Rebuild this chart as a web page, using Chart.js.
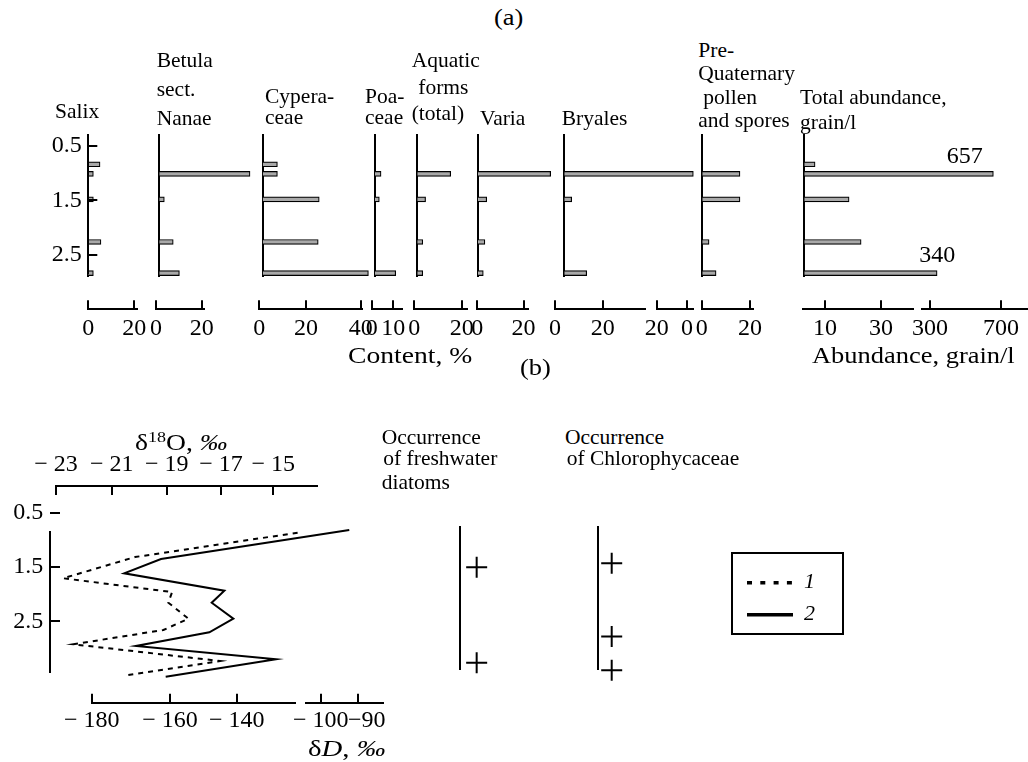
<!DOCTYPE html>
<html><head><meta charset="utf-8"><title>Pollen and isotope diagram</title>
<script src="https://cdn.jsdelivr.net/npm/chart.js@4.4.1/dist/chart.umd.min.js"></script>
<style>
html,body{margin:0;padding:0;background:#fff;}
#fig{position:relative;width:1028px;height:762px;overflow:hidden;background:#fff;font-family:'Liberation Serif','Times New Roman',serif;color:#000;}
#fig canvas{position:absolute;}
.t{position:absolute;white-space:nowrap;line-height:1;transform-origin:0 0;}
#legbox{position:absolute;left:731px;top:552px;width:113px;height:83px;box-sizing:border-box;border:2px solid #000;}
</style></head>
<body><div id="fig"><div id="legbox"></div></div>
<script>
// ================= DATA =================
// panel (a): sample depths (m) and contents (%)
const depthsA    = [0.87, 1.04, 1.49, 2.24, 2.79];
const salix      = [5.1, 2.2, 2.2, 5.5, 2.2];
const betula     = [null, 39.7, 2.2, 6.1, 8.8];
const cyperaceae = [5.8, 5.8, 22.3, 21.9, 41.7];
const poaceae    = [null, 2.8, 2.0, null, 9.6];
const aquatic    = [null, 14.1, 3.5, 2.3, 2.3];
const varia      = [null, 31.6, 3.8, 3.0, 2.3];
const bryales    = [null, 54.1, 3.1, null, 9.4];
const preQuat    = [null, 15.6, 15.6, 2.8, 5.7];
const totalAbund = [5.2, 657, 18.6, 22.9, 340];   // grain/l

const depthTicks = [0.5, 1.5, 2.5];
const depthTickLabels = ['0.5', '1.5', '2.5'];

// panel (b): isotopes
const depthsO18 = [0.898, 1.325, 1.698, 1.939, 2.126, 2.407, 2.605, 2.856, 3.149, 3.395];
const d18O      = [-14.07, -20.15, -22.74, -18.80, -18.94, -18.20, -19.12, -22.38, -17.04, -20.40];
const depthsD   = [0.851, 1.360, 1.611, 1.916, 2.126, 2.407, 2.646, 2.886, 3.119, 3.425];
const dD        = [-92.4, -162.3, -171.7, -143.7, -147.5, -141.0, -148.2, -168.7, -128.2, -161.1];

const o18Ticks = [-23, -21, -19, -17, -15];
const o18TickLabels = ['\u2212 23', '\u2212 21', '\u2212 19', '\u2212 17', '\u2212 15'];
const dDTicksA = [-180, -160, -140];
const dDTickLabelsA = ['\u2212 180', '\u2212 160', '\u2212 140'];
const dDTicksB = [-100, -90];
const dDTickLabelsB = ['\u2212 100', '\u2007\u2009\u221290'];

// occurrences (presence = 1)
const diatomDepths = [1.505, 3.18];
const chloroDepths = [1.435, 2.72, 3.31];
const presence = 1;

// legend
const seriesNames = ['1', '2'];

// ================= LIBRARY SETUP =================
const FONT = "'Liberation Serif','Times New Roman',serif";
Chart.defaults.font.family = FONT;
Chart.defaults.color = '#000';
Chart.defaults.animation = false;
Chart.defaults.events = [];
Chart.defaults.plugins.legend.display = false;
Chart.defaults.plugins.tooltip.enabled = false;

function pw(knots, v) {
  const k = knots.slice().sort((a, b) => a[0] - b[0]);
  let i = 0;
  while (i < k.length - 2 && v > k[i + 1][0]) i++;
  const a = k[i], b = k[i + 1];
  return a[1] + (v - a[0]) * (b[1] - a[1]) / (b[0] - a[0]);
}
function pwInv(knots, p) {
  const k = knots.slice().sort((a, b) => a[1] - b[1]);
  let i = 0;
  while (i < k.length - 2 && p > k[i + 1][1]) i++;
  const a = k[i], b = k[i + 1];
  return a[0] + (p - a[1]) * (b[0] - a[0]) / (b[1] - a[1]);
}
// linear scale with a hand-calibrated (broken / uneven) value-to-pixel relation
class PiecewiseScale extends Chart.LinearScale {
  getPixelForValue(value) {
    const o = this.options;
    return this.left + (pw(o.knots, value) - o.originPx);
  }
  getValueForPixel(pixel) {
    const o = this.options;
    return pwInv(o.knots, pixel - this.left + o.originPx);
  }
}
PiecewiseScale.id = 'piecewise';
PiecewiseScale.defaults = {};
Chart.register(PiecewiseScale);

const fig = document.getElementById('fig');
function place(L, T, R, B, m) {
  const x = Math.floor(L - m.l), y = Math.floor(T - m.t);
  const w = Math.ceil(R + m.r) - x, h = Math.ceil(B + m.b) - y;
  return {x, y, w, h, pad: {left: L - x, top: T - y, right: x + w - R, bottom: y + h - B}};
}
function makeChart(g, cfg) {
  const c = document.createElement('canvas');
  c.width = g.w; c.height = g.h;
  c.style.left = g.x + 'px'; c.style.top = g.y + 'px';
  c.style.width = g.w + 'px'; c.style.height = g.h + 'px';
  fig.appendChild(c);
  cfg.options = Object.assign({responsive: false, animation: false, devicePixelRatio: 1}, cfg.options);
  cfg.options.layout = Object.assign({autoPadding: false}, cfg.options.layout);
  return new Chart(c, cfg);
}
function text(html, left, baseline, size, opts) {
  const d = document.createElement('div');
  d.className = 't';
  d.style.fontSize = size + 'px';
  d.style.left = left + 'px';
  d.style.top = (baseline - 0.8375 * size) + 'px';
  if (opts && opts.sx) d.style.transform = 'scaleX(' + opts.sx + ')';
  if (opts && opts.italic) d.style.fontStyle = 'italic';
  d.innerHTML = html;
  fig.appendChild(d);
}

const BAR_FILL = '#a9a9a9';
const TICK_FONT = {size: 24};

function hiddenDepthAxis(min, max, showBorder) {
  return {type: 'linear', position: 'left', min, max, reverse: true, bounds: 'data', offset: false,
    ticks: {display: false}, grid: {display: false, drawTicks: false},
    border: {display: showBorder !== false, color: '#000', width: 2},
    afterFit: s => { s.width = 0; }};
}
function labelledDepthAxis(L, R, T, B, min, max, labelPad, showBorder) {
  const W = 46;
  const g = place(L, T, R, B, {l: W + 4, t: 18, r: 2, b: 18});
  g.pad.left -= W;
  return makeChart(g, {type: 'scatter', data: {datasets: []}, options: {layout: {padding: g.pad}, scales: {
    x: {type: 'linear', display: false, min: 0, max: 1},
    y: {type: 'linear', position: 'left', min, max, reverse: true, bounds: 'data', offset: false,
      afterBuildTicks: s => { s.ticks = depthTicks.map(v => ({value: v})); },
      afterFit: s => { s.width = W; },
      ticks: {autoSkip: false, padding: labelPad, font: TICK_FONT, color: '#000', callback: (v, i) => depthTickLabels[i]},
      grid: {display: true, drawOnChartArea: true, drawTicks: false, color: '#000', lineWidth: 2},
      border: {display: showBorder, color: '#000', width: 2}}
  }}});
}
const AXH = 40;
function strip(spec, lineY, pos, labelPad) {
  const T = pos === 'bottom' ? lineY - 9 : lineY;
  const B = pos === 'bottom' ? lineY : lineY + 9;
  const m = pos === 'bottom' ? {l: 34, r: 34, t: 2, b: AXH + 2} : {l: 34, r: 34, t: AXH + 2, b: 2};
  const g = place(spec.L, T, spec.R, B, m);
  if (pos === 'bottom') g.pad.bottom -= AXH; else g.pad.top -= AXH;
  const vL = pwInv(spec.knots, spec.L), vR = pwInv(spec.knots, spec.R);
  return makeChart(g, {type: 'scatter', data: {datasets: []}, options: {layout: {padding: g.pad}, scales: {
    x: {type: 'piecewise', position: pos, knots: spec.knots, originPx: spec.L,
      min: Math.min(vL, vR), max: Math.max(vL, vR), bounds: 'data', offset: false,
      afterBuildTicks: s => { s.ticks = spec.ticks.map(v => ({value: v})); },
      afterFit: s => { s.height = AXH; },
      grid: {display: true, drawOnChartArea: true, drawTicks: false, color: '#000', lineWidth: 2},
      border: {display: true, color: '#000', width: 2},
      ticks: {autoSkip: false, maxRotation: 0, minRotation: 0, padding: labelPad, font: TICK_FONT, color: '#000',
        callback: (v, i) => spec.labels[i]}},
    y: {display: false}
  }}});
}

// ================= PANEL (a) =================
const A_T = 135, A_B = 276;
const aMin = 0.5 + (A_T - 143.3) / 56.7, aMax = 0.5 + (A_B - 143.3) / 56.7;

const columns = [
  {values: salix,      L: 88.3,  R: 150,  k: 2.3},
  {values: betula,     L: 159.3, R: 255,  k: 2.285},
  {values: cyperaceae, L: 262.7, R: 372,  k: 2.535},
  {values: poaceae,    L: 375,   R: 405,  k: 2.16},
  {values: aquatic,    L: 417.3, R: 470,  k: 2.37},
  {values: varia,      L: 478,   R: 560,  k: 2.3},
  {values: bryales,    L: 564.3, R: 700,  k: 2.385},
  {values: preQuat,    L: 702.3, R: 762,  k: 2.415},
  {values: totalAbund, L: 804.3, R: 1022,
   knots: [[0, 804.3], [10, 825], [30, 881], [40, 909], [300, 930], [700, 1001], [800, 1018.75]]}
];
columns.forEach(col => {
  const g = place(col.L, A_T, col.R, A_B, {l: 4, t: 4, r: 3, b: 4});
  const pts = depthsA.map((d, i) => ({x: col.values[i], y: d})).filter(p => p.x != null);
  const x = col.knots
    ? {type: 'piecewise', knots: col.knots, originPx: col.L, min: 0, max: pwInv(col.knots, col.R), display: false, bounds: 'data', offset: false}
    : {type: 'linear', min: 0, max: (col.R - col.L) / col.k, display: false, bounds: 'data', offset: false};
  makeChart(g, {type: 'bar',
    data: {datasets: [{data: pts, backgroundColor: BAR_FILL, borderColor: '#000', borderWidth: 1.2,
      borderSkipped: 'start', barThickness: 5}]},
    options: {indexAxis: 'y', layout: {padding: g.pad}, scales: {x, y: hiddenDepthAxis(aMin, aMax)}}});
});
// depth axis with inward ticks
labelledDepthAxis(88.3, 97.3, A_T, A_B, aMin, aMax, 6.6, true);

// bottom axis strips
const A_LINE = 309.3;
[
  {L: 88.3,  R: 136.7, knots: [[0, 88.3], [20, 134.3]], ticks: [0, 20], labels: ['0', '20']},
  {L: 156,   R: 204,   knots: [[0, 156], [20, 201.7]], ticks: [0, 20], labels: ['0', '20']},
  {L: 259.3, R: 361.7, knots: [[0, 259.3], [20, 306], [40, 360.7]], ticks: [0, 20, 40], labels: ['0', '20', '40']},
  {L: 371.7, R: 401.7, knots: [[0, 371.7], [10, 393.3]], ticks: [0, 10], labels: ['0', '10']},
  {L: 414.3, R: 466.7, knots: [[0, 414.3], [20, 461.7]], ticks: [0, 20], labels: ['0', '20']},
  {L: 477.3, R: 528.3, knots: [[0, 477.3], [20, 523.5]], ticks: [0, 20], labels: ['0', '20']},
  {L: 555,   R: 645,   knots: [[0, 555], [20, 602.7]], ticks: [0, 20], labels: ['0', '20']},
  {L: 656.7, R: 693.3, knots: [[20, 656.7], [0, 687]], ticks: [20, 0], labels: ['20', '0']},
  {L: 701.7, R: 753,   knots: [[0, 701.7], [20, 750]], ticks: [0, 20], labels: ['0', '20']},
  {L: 803.3, R: 912.7, knots: [[10, 825], [30, 881]], ticks: [10, 30], labels: ['10', '30']},
  {L: 921.7, R: 1027,  knots: [[300, 930], [700, 1001]], ticks: [300, 700], labels: ['300', '700']}
].forEach(s => strip(s, A_LINE, 'bottom', 5.5));

// ================= PANEL (b) =================
const yOf = px => 0.5 + (px - 510) / 57;
const O18_KNOTS = [[-23, 56], [-21, 111.7], [-19, 166.7], [-17, 221], [-15, 273.3]];
const DD_KNOTS = [[-180, 91.7], [-160, 170], [-140, 236.7], [-122.5, 295], [-103.9, 306], [-100, 320.7], [-90, 358.3]];

// isotope profile
(function () {
  const L = 50, R = 400, T = 531.7, B = 672.7;
  const g = place(L, T, R, B, {l: 4, t: 8, r: 4, b: 10});
  makeChart(g, {type: 'scatter',
    data: {datasets: [
      {label: seriesNames[0], data: depthsO18.map((d, i) => ({x: d18O[i], y: d})), xAxisID: 'xO', yAxisID: 'y',
       showLine: true, borderColor: '#000', borderWidth: 2, borderDash: [5, 5], pointRadius: 0, clip: false},
      {label: seriesNames[1], data: depthsD.map((d, i) => ({x: dD[i], y: d})), xAxisID: 'xD', yAxisID: 'y',
       showLine: true, borderColor: '#000', borderWidth: 2, pointRadius: 0, clip: false}
    ]},
    options: {layout: {padding: g.pad}, scales: {
      xO: {type: 'piecewise', axis: 'x', display: false, knots: O18_KNOTS, originPx: L,
           min: pwInv(O18_KNOTS, L), max: pwInv(O18_KNOTS, R), bounds: 'data', offset: false},
      xD: {type: 'piecewise', axis: 'x', display: false, knots: DD_KNOTS, originPx: L,
           min: pwInv(DD_KNOTS, L), max: pwInv(DD_KNOTS, R), bounds: 'data', offset: false},
      y: hiddenDepthAxis(yOf(T), yOf(B))
    }}});
})();
labelledDepthAxis(50, 60, 500, 635, yOf(500), yOf(635), 6.7, false);

strip({L: 56, R: 317.3, knots: O18_KNOTS, ticks: o18Ticks, labels: o18TickLabels}, 486, 'top', 6.6);
strip({L: 91.7, R: 295, knots: DD_KNOTS.slice(0, 3), ticks: dDTicksA, labels: dDTickLabelsA}, 702.7, 'bottom', 3.4);
strip({L: 306, R: 382.7, knots: DD_KNOTS.slice(5), ticks: dDTicksB, labels: dDTickLabelsB}, 702.7, 'bottom', 3.4);

// occurrence columns
function occurrence(L, R, depths) {
  const T = 526.7, B = 669.3;
  const g = place(L, T, R, B, {l: 4, t: 4, r: 14, b: 14});
  makeChart(g, {type: 'scatter',
    data: {datasets: [{data: depths.map(d => ({x: presence, y: d})), pointStyle: 'cross', pointRadius: 10.5,
      pointBorderWidth: 2, pointBorderColor: '#000', clip: false}]},
    options: {layout: {padding: g.pad}, scales: {
      x: {type: 'linear', display: false, min: 0, max: 3, bounds: 'data', offset: false},
      y: hiddenDepthAxis(yOf(T), yOf(B))
    }}});
}
occurrence(460, 510, diatomDepths);
occurrence(597.7, 639.7, chloroDepths);

// legend (drawn by the Chart.js legend plugin)
(function () {
  const g = {x: 733, y: 554, w: 220, h: 130, pad: {left: 4, top: 7.7, right: 0, bottom: 0}};
  makeChart(g, {type: 'line',
    data: {labels: [], datasets: [
      {label: seriesNames[0], data: [], borderColor: '#000', backgroundColor: '#000', borderWidth: 3.5, borderDash: [5, 8.3]},
      {label: seriesNames[1], data: [], borderColor: '#000', backgroundColor: '#000', borderWidth: 3.5, borderDash: []}
    ]},
    options: {layout: {padding: g.pad}, scales: {x: {display: false}, y: {display: false}},
      plugins: {legend: {display: true, position: 'left', align: 'start',
        labels: {usePointStyle: true, pointStyle: 'line', pointStyleWidth: 46, padding: 10, color: '#000',
                 font: {size: 22, style: 'italic', family: FONT},
                 generateLabels: chart => chart.data.datasets.map((ds, i) => ({
                   text: ds.label, fillStyle: ds.borderColor, strokeStyle: ds.borderColor,
                   lineWidth: ds.borderWidth, lineDash: ds.borderDash, lineCap: 'butt',
                   pointStyle: 'line', rotation: 0, hidden: false, datasetIndex: i, fontColor: '#000'}))}}}}});
})();

// ================= TEXT =================
const TS = 21.5;
[
  ['Salix', 55, 118.6],
  ['Betula', 156.7, 68], ['sect.', 156.7, 97.5], ['Nanae', 156.7, 126.3],
  ['Cypera-', 265, 104], ['ceae', 265, 125.5],
  ['Poa-', 365, 104], ['ceae', 365, 125.5],
  ['Aquatic', 411.7, 68], ['forms', 418.3, 94.7], ['(total)', 411.7, 120.8],
  ['Varia', 480, 126.3],
  ['Bryales', 561.7, 126.3],
  ['Pre-', 698.3, 58], ['Quaternary', 698.3, 81.3], ['pollen', 703.3, 104.7], ['and spores', 698.3, 128],
  ['Total abundance,', 800, 104.7], ['grain/l', 800, 129.7],
  ['Occurrence', 381.7, 445], ['of freshwater', 383.3, 466], ['diatoms', 381.7, 490],
  ['Occurrence', 565, 445], ['of Chlorophycaceae', 566.7, 466]
].forEach(t => text(t[0], t[1], t[2], TS));

text('(a)', 494, 25, 23, {sx: 1.15});
text('(b)', 520, 375.5, 23, {sx: 1.15});
text('Content, %', 348.3, 363, 23, {sx: 1.2});
text('Abundance, grain/l', 811.7, 363, 23, {sx: 1.15});
text('657', 946.7, 163.3, 24);
text('340', 919.3, 261.7, 24);
text('\u03b4<span style="font-size:15px;position:relative;top:-8px">18</span>O, <i>\u2030</i>', 135, 450, 23, {sx: 1.2});
text('\u03b4<i>D</i>, <i>\u2030</i>', 308.3, 756.7, 23, {sx: 1.25});
</script>
</body></html>
